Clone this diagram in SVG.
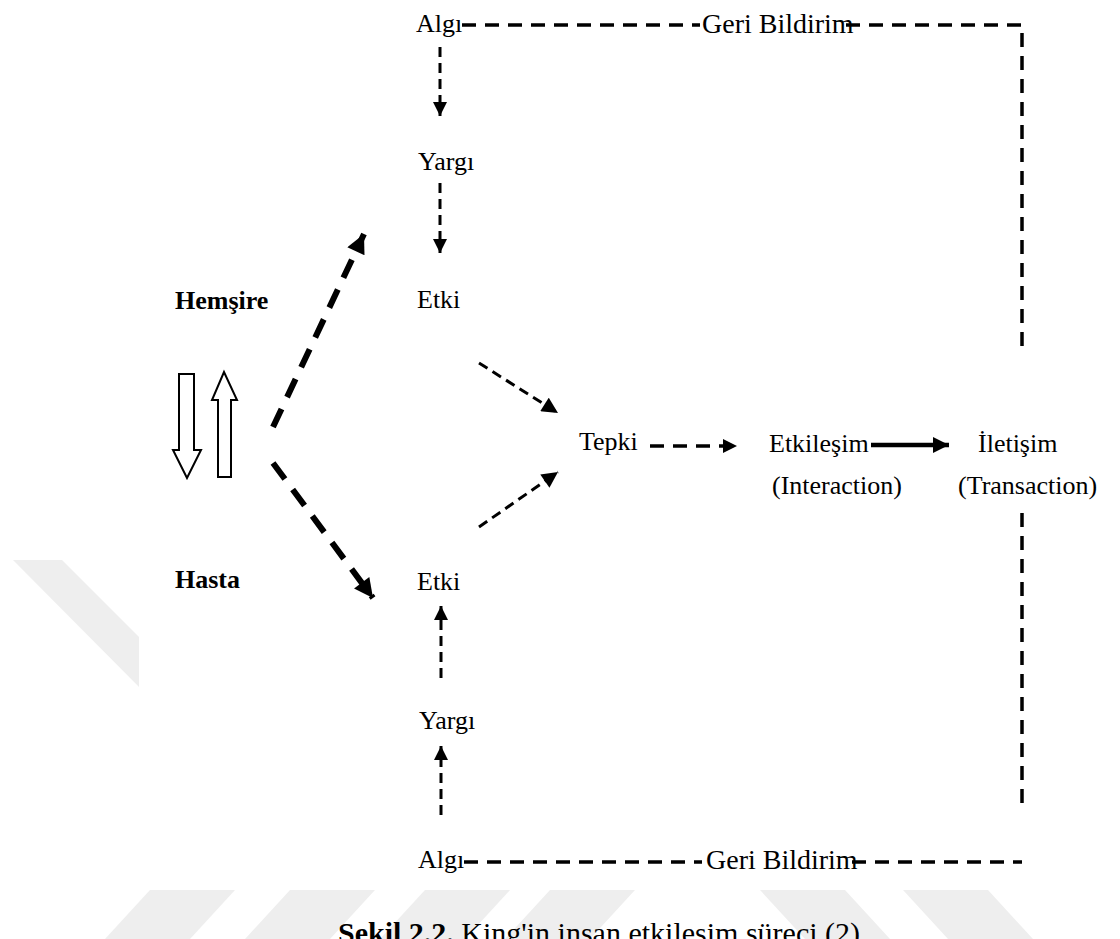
<svg xmlns="http://www.w3.org/2000/svg" width="1120" height="939" viewBox="0 0 1120 939">
  <style>
    .lbl { font-family: "Liberation Serif", "Times New Roman", serif; font-size: 26px; fill: #000; }
    .fbk { font-size: 28px; }
    .bold { font-weight: bold; }
    .cap { font-family: "Liberation Serif", "Times New Roman", serif; font-size: 30px; fill: #000; }
    .fb { fill: none; stroke: #000; stroke-width: 3.5; stroke-dasharray: 14 9; }
    .thin { fill: none; stroke: #000; stroke-width: 3; stroke-dasharray: 10 6; }
    .mid { fill: none; stroke: #000; stroke-width: 3; stroke-dasharray: 10 6; }
    .thick { fill: none; stroke: #000; stroke-width: 6; stroke-dasharray: 20 13; }
    .solid { fill: none; stroke: #000; stroke-width: 4.5; }
    .hollow { fill: #fff; stroke: #000; stroke-width: 2; stroke-linejoin: miter; }
    .wm { fill: #eeeeee; }
  </style>
  <defs>
    <marker id="tri" viewBox="0 0 10 10" refX="10" refY="5" markerUnits="userSpaceOnUse" markerWidth="15" markerHeight="14" orient="auto">
      <path d="M0,0 L10,5 L0,10 z" fill="#000"/>
    </marker>
    <marker id="triBig" viewBox="0 0 10 10" refX="10" refY="5" markerUnits="userSpaceOnUse" markerWidth="18" markerHeight="16" orient="auto">
      <path d="M0,0 L10,5 L0,10 z" fill="#000"/>
    </marker>
    <marker id="triHuge" viewBox="0 0 10 10" refX="10" refY="5" markerUnits="userSpaceOnUse" markerWidth="21" markerHeight="19" orient="auto">
      <path d="M0,0 L10,5 L0,10 z" fill="#000"/>
    </marker>
  </defs>

  <!-- page background with faint watermark stripes -->
  <rect width="1120" height="939" fill="#fff"/>
  <g id="watermark">
    <polygon class="wm" points="13,560 62,560 200,698 150,698"/>
    <polygon class="wm" points="105,939 190,939 235,890 150,890"/>
    <polygon class="wm" points="245,939 330,939 375,890 290,890"/>
    <polygon class="wm" points="380,939 465,939 510,890 425,890"/>
    <polygon class="wm" points="505,939 590,939 635,890 550,890"/>
    <polygon class="wm" points="760,890 845,890 890,939 805,939"/>
    <polygon class="wm" points="903,890 988,890 1033,939 948,939"/>
  </g>
  <rect x="139" y="0" width="981" height="890" fill="#fff"/>

  <!-- connectors -->
  <g id="connectors">
    <!-- feedback loop, top -->
    <path class="fb" d="M462 25 H700"/>
    <path class="fb" d="M846 25 H1022 V352"/>
    <!-- feedback loop, bottom -->
    <path class="fb" d="M1022 513 V805"/>
    <path class="fb" d="M464 862 H702"/>
    <path class="fb" d="M852 862 H1022"/>
    <!-- nurse side -->
    <path class="thin" d="M440 47 V116" marker-end="url(#tri)"/>
    <path class="thin" d="M440 183 V253" marker-end="url(#tri)"/>
    <path class="mid" d="M479 363 L558 413" marker-end="url(#triBig)"/>
    <!-- patient side -->
    <path class="thin" d="M441 678 V606" marker-end="url(#tri)"/>
    <path class="thin" d="M441 815 V746" marker-end="url(#tri)"/>
    <path class="mid" d="M479 527 L558 472" marker-end="url(#triBig)"/>
    <!-- reaction to interaction to transaction -->
    <path class="fb" d="M650 446 H737" marker-end="url(#tri)"/>
    <path class="solid" d="M871 445 H949" marker-end="url(#triBig)"/>
    <!-- nurse / patient split -->
    <path class="thick" d="M273 427 L364 234" marker-end="url(#triHuge)"/>
    <path class="thick" d="M273 463 L373 598" marker-end="url(#triHuge)"/>
  </g>

  <!-- hollow exchange arrows -->
  <g id="exchange">
    <polygon class="hollow" points="179,374 194,374 194,450 201,450 187,478 173,450 179,450"/>
    <polygon class="hollow" points="218,477 231,477 231,400 237,400 224,372 212,400 218,400"/>
  </g>

  <g id="hemsire"><text class="lbl bold" x="175" y="309">Hemşire</text></g>
  <g id="hasta"><text class="lbl bold" x="175" y="588">Hasta</text></g>

  <g id="algi-top"><text class="lbl" x="416" y="32">Algı</text></g>
  <g id="geri-top"><text class="lbl fbk" x="702" y="33">Geri Bildirim</text></g>
  <g id="yargi-top"><text class="lbl" x="418" y="170">Yargı</text></g>
  <g id="etki-top"><text class="lbl" x="417" y="308">Etki</text></g>

  <g id="tepki"><text class="lbl" x="579" y="450">Tepki</text></g>
  <g id="etkilesim">
    <text class="lbl" x="769" y="452">Etkileşim</text>
    <text class="lbl" x="772" y="494">(Interaction)</text>
  </g>
  <g id="iletisim">
    <text class="lbl" x="978" y="452">İletişim</text>
    <text class="lbl" x="958" y="494">(Transaction)</text>
  </g>

  <g id="etki-bottom"><text class="lbl" x="417" y="590">Etki</text></g>
  <g id="yargi-bottom"><text class="lbl" x="419" y="729">Yargı</text></g>
  <g id="algi-bottom"><text class="lbl" x="418" y="868">Algı</text></g>
  <g id="geri-bottom"><text class="lbl fbk" x="706" y="869">Geri Bildirim</text></g>

  <g id="caption">
    <text class="cap" x="338" y="943"><tspan font-weight="bold">Şekil 2.2.</tspan> King'in insan etkileşim süreci (2)</text>
  </g>
</svg>
